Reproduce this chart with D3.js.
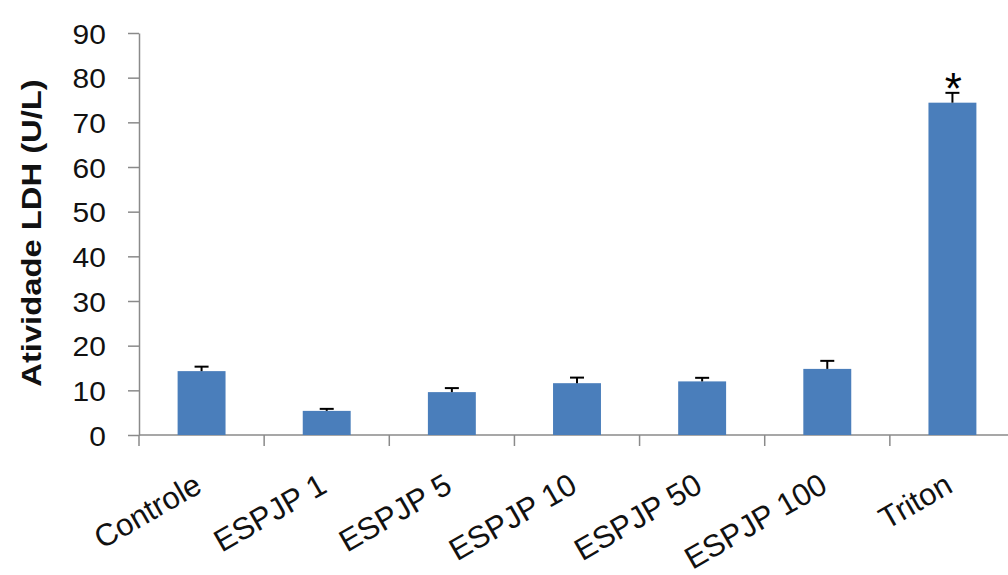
<!DOCTYPE html>
<html>
<head>
<meta charset="utf-8">
<script src="https://cdn.jsdelivr.net/npm/d3@7"></script>
<style>
  html, body { margin: 0; padding: 0; background: #fff; }
  svg { display: block; font-family: "Liberation Sans", Arial, sans-serif; }
</style>
</head>
<body>
<svg id="chart" width="1008" height="575"></svg>
<script>
const categories = ["Controle", "ESPJP 1", "ESPJP 5", "ESPJP 10", "ESPJP 50", "ESPJP 100", "Triton"];
const means = [14.3, 5.4, 9.6, 11.6, 12.0, 14.8, 74.4];
const errors = [1.0, 0.45, 0.9, 1.25, 0.8, 1.8, 2.2];
const significant = ["Triton"];
const yTicks = [0, 10, 20, 30, 40, 50, 60, 70, 80, 90];
const yTitle = "Atividade LDH (U/L)";

const svg = d3.select("#chart");
const plotLeft = 139, plotRight = 1015, plotTop = 33, plotBottom = 435;

const x = d3.scaleBand().domain(categories).range([plotLeft, plotRight])
  .paddingInner(0.617).paddingOuter(0.3085);
const y = d3.scaleLinear().domain([0, 90]).range([plotBottom, plotTop]);
const step = x.step();

const axisColor = "#8a8a8a";

// Y axis
const yAxis = svg.append("g").attr("transform", `translate(${plotLeft},0)`)
  .call(d3.axisLeft(y).tickValues(yTicks).tickSize(11).tickSizeOuter(0));
yAxis.select(".domain").attr("stroke", axisColor).attr("stroke-width", 1.5);
yAxis.selectAll(".tick line").attr("stroke", axisColor).attr("stroke-width", 1.5);
yAxis.selectAll(".tick text")
  .attr("x", -31).attr("dy", "0.36em")
  .attr("transform", "scale(1.07,1)")
  .attr("font-size", 28).attr("fill", "#111")
  .attr("font-family", "'Liberation Sans', Arial, sans-serif");

// X axis (ticks between categories)
const boundaries = d3.range(categories.length + 1).map(i => plotLeft + i * step);
svg.append("line")
  .attr("x1", plotLeft).attr("x2", plotRight).attr("y1", y(0)).attr("y2", y(0))
  .attr("stroke", axisColor).attr("stroke-width", 1.5);
svg.selectAll(".xtick").data(boundaries).join("line")
  .attr("class", "xtick")
  .attr("x1", d => d).attr("x2", d => d)
  .attr("y1", y(0)).attr("y2", y(0) + 11)
  .attr("stroke", axisColor).attr("stroke-width", 1.5);

// Bars
svg.selectAll(".bar").data(categories).join("rect")
  .attr("class", "bar")
  .attr("x", d => x(d)).attr("width", x.bandwidth())
  .attr("y", (d, i) => y(means[i]))
  .attr("height", (d, i) => y(0) - y(means[i]))
  .attr("fill", "#4a7ebb");

// Error bars (upper only)
const eb = svg.selectAll(".err").data(categories).join("g").attr("class", "err");
eb.append("line")
  .attr("x1", d => x(d) + x.bandwidth() / 2).attr("x2", d => x(d) + x.bandwidth() / 2)
  .attr("y1", (d, i) => y(means[i])).attr("y2", (d, i) => y(means[i] + errors[i]))
  .attr("stroke", "#000").attr("stroke-width", 2);
eb.append("line")
  .attr("x1", d => x(d) + x.bandwidth() / 2 - 7).attr("x2", d => x(d) + x.bandwidth() / 2 + 7)
  .attr("y1", (d, i) => y(means[i] + errors[i])).attr("y2", (d, i) => y(means[i] + errors[i]))
  .attr("stroke", "#000").attr("stroke-width", 2);

// Significance asterisk
svg.selectAll(".sig").data(categories.filter(c => significant.includes(c))).join("text")
  .attr("class", "sig")
  .attr("x", d => x(d) + x.bandwidth() / 2 + 1)
  .attr("y", d => { const i = categories.indexOf(d); return y(means[i] + errors[i]) + 11; })
  .attr("text-anchor", "middle")
  .attr("font-size", 44).attr("fill", "#000")
  .text("*");

// X labels
svg.selectAll(".xlab").data(categories).join("text")
  .attr("class", "xlab")
  .attr("transform", d => `translate(${x(d) + x.bandwidth() / 2 + 2},491) rotate(-30)`)
  .attr("text-anchor", "end")
  .attr("font-size", 31).attr("fill", "#111")
  .text(d => d);

// Y title
svg.append("text")
  .attr("transform", `translate(41,${(78 + 388) / 2}) rotate(-90) scale(1.17,1)`)
  .attr("text-anchor", "middle")
  .attr("font-size", 28).attr("font-weight", "bold").attr("fill", "#111")
  .text(yTitle);
</script>
</body>
</html>
